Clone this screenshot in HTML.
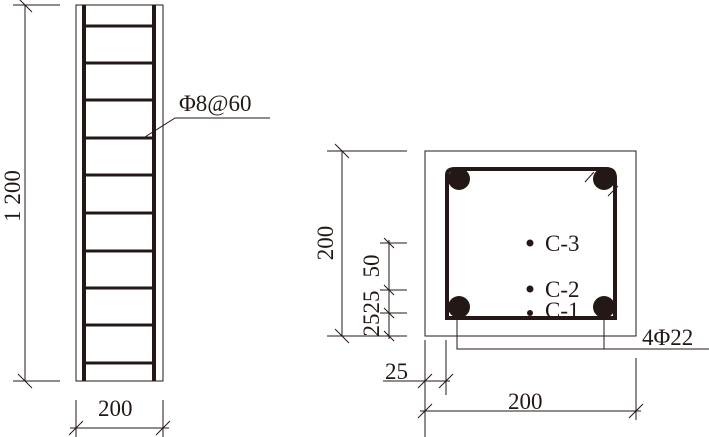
<!DOCTYPE html>
<html><head><style>
html,body{margin:0;padding:0;background:#fff;width:709px;height:437px;overflow:hidden}
svg{display:block}
text{font-family:"Liberation Serif",serif;fill:#231815;font-size:23px}
</style></head><body>
<svg width="709" height="437" viewBox="0 0 709 437" xmlns="http://www.w3.org/2000/svg">
<g stroke="#231815" fill="none">
<rect x="76" y="5" width="87" height="376" stroke-width="1"/>
<line x1="84" y1="5" x2="84" y2="381" stroke-width="4"/>
<line x1="154" y1="5" x2="154" y2="381" stroke-width="4"/>
<g stroke-width="3">
<line x1="84" y1="26" x2="154" y2="26"/><line x1="84" y1="63" x2="154" y2="63"/>
<line x1="84" y1="100" x2="154" y2="100"/><line x1="84" y1="138" x2="154" y2="138"/>
<line x1="84" y1="175" x2="154" y2="175"/><line x1="84" y1="213" x2="154" y2="213"/>
<line x1="84" y1="251" x2="154" y2="251"/><line x1="84" y1="288" x2="154" y2="288"/>
<line x1="84" y1="325" x2="154" y2="325"/><line x1="84" y1="363" x2="154" y2="363"/>
</g>
<g stroke-width="1">
<line x1="25" y1="5" x2="25" y2="381"/>
<line x1="13" y1="5" x2="60" y2="5"/><line x1="13" y1="381" x2="60" y2="381"/>
<line x1="18" y1="-2" x2="32" y2="12"/><line x1="18" y1="374" x2="32" y2="388"/>
<line x1="76" y1="400" x2="76" y2="437"/><line x1="163" y1="400" x2="163" y2="437"/>
<line x1="70" y1="428" x2="169" y2="428"/>
<line x1="69" y1="435" x2="83" y2="421"/><line x1="156" y1="435" x2="170" y2="421"/>
<polyline points="145,137 175,118 270,118"/>
</g>
<rect x="425" y="151" width="211" height="185" stroke-width="1"/>
<path d="M447,318 L447,175 Q447,169 455,169 L606,169 Q615,169 615,178 L615,318 Z" stroke-width="4"/>
<g stroke-width="1">
<line x1="342" y1="151" x2="342" y2="336"/>
<line x1="327" y1="151" x2="407" y2="151"/><line x1="327" y1="336" x2="407" y2="336"/>
<line x1="335" y1="144" x2="349" y2="158"/><line x1="335" y1="329" x2="349" y2="343"/>
<line x1="389" y1="240" x2="389" y2="339"/>
<line x1="380" y1="243" x2="407" y2="243"/><line x1="380" y1="290" x2="407" y2="290"/>
<line x1="380" y1="313" x2="407" y2="313"/>
<line x1="384" y1="238" x2="394" y2="248"/><line x1="384" y1="285" x2="394" y2="295"/>
<line x1="384" y1="308" x2="394" y2="318"/><line x1="384" y1="331" x2="394" y2="341"/>
<polyline points="457,318 457,349 709,349"/><line x1="604" y1="318" x2="604" y2="349"/>
<line x1="425" y1="340" x2="425" y2="437"/><line x1="446" y1="340" x2="446" y2="395"/>
<line x1="383" y1="381" x2="450" y2="381"/>
<line x1="418" y1="388" x2="432" y2="374"/><line x1="439" y1="388" x2="453" y2="374"/>
<line x1="636" y1="358" x2="636" y2="420"/>
<line x1="420" y1="411" x2="641" y2="411"/>
<line x1="418" y1="418" x2="432" y2="404"/><line x1="629" y1="418" x2="643" y2="404"/>
<line x1="585" y1="182" x2="594" y2="172"/><line x1="608" y1="196" x2="618" y2="186"/>
</g>
</g>
<g fill="#231815">
<circle cx="459" cy="179" r="11"/><circle cx="604" cy="179" r="11"/>
<circle cx="459" cy="307" r="11"/><circle cx="604" cy="307" r="11"/>
<circle cx="530" cy="243" r="3.5"/><circle cx="530" cy="289" r="3.5"/><circle cx="530" cy="313" r="3"/>
</g>
<text x="179" y="111">Φ8@60</text>
<text x="98" y="416">200</text>
<text transform="translate(20,196) rotate(-90)" text-anchor="middle">1 200</text>
<text x="545" y="251">C-3</text>
<text x="545" y="297">C-2</text>
<text x="545" y="318">C-1</text>
<text x="642" y="345">4Φ22</text>
<text x="385" y="379">25</text>
<text x="508" y="409">200</text>
<text transform="translate(333,243) rotate(-90)" text-anchor="middle">200</text>
<text transform="translate(379,266) rotate(-90)" text-anchor="middle">50</text>
<text transform="translate(379,302) rotate(-90)" text-anchor="middle">25</text>
<text transform="translate(379,325) rotate(-90)" text-anchor="middle">25</text>
</svg>
</body></html>
